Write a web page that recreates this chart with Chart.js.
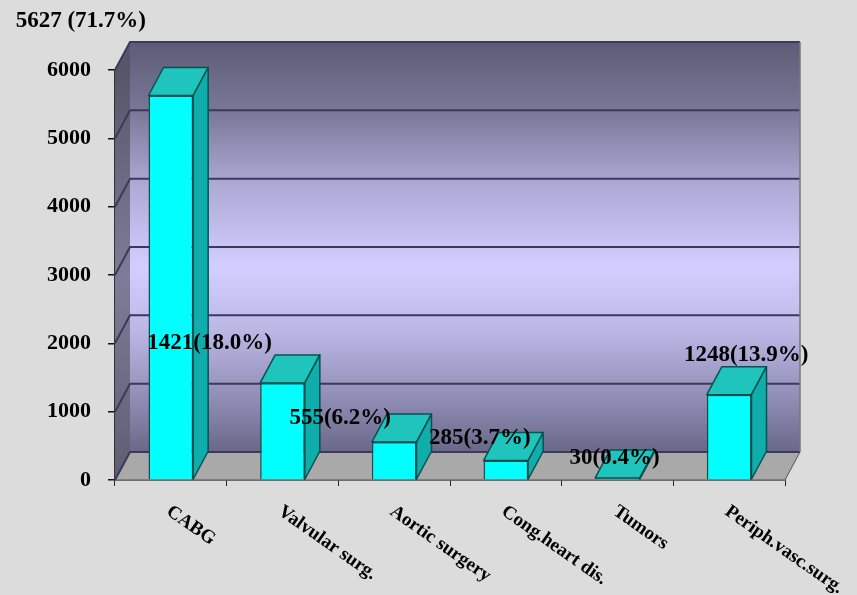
<!DOCTYPE html>
<html>
<head>
<meta charset="utf-8">
<script src="https://cdn.jsdelivr.net/npm/chart.js"></script>
<style>
  html, body { margin: 0; padding: 0; background: #dcdcdc; }
  canvas { display: block; }
</style>
</head>
<body>
<canvas id="chart" width="857" height="595"></canvas>
<script>
// data
var categories = ['CABG', 'Valvular surg.', 'Aortic surgery', 'Cong.heart dis.', 'Tumors', 'Periph.vasc.surg.'];
var cases = [5627, 1421, 555, 285, 30, 1248];
var percents = ['71.7%', '18.0%', '6.2%', '3.7%', '0.4%', '13.9%'];
var yTicks = [0, 1000, 2000, 3000, 4000, 5000, 6000];

var FONT = '"Liberation Serif", "Times New Roman", serif';
var DX = 15, DY = -28;   // depth of the fake 3d

// where each value label sits, relative to bar centre / bar top (hand placed like the original)
var labelShift = [[-90, -74], [-73, -40], [-54, -24], [-26, -22], [-3, -20], [17, -40]];

function poly(ctx, pts, fill, stroke, lw) {
    ctx.beginPath();
    ctx.moveTo(pts[0][0], pts[0][1]);
    for (var i = 1; i < pts.length; i++) ctx.lineTo(pts[i][0], pts[i][1]);
    ctx.closePath();
    if (fill) { ctx.fillStyle = fill; ctx.fill(); }
    if (stroke) { ctx.strokeStyle = stroke; ctx.lineWidth = lw || 1; ctx.stroke(); }
}

var walls = {
    id: 'walls',
    beforeDatasetsDraw: function (chart) {
        var ctx = chart.ctx, a = chart.chartArea, ys = chart.scales.y;
        ctx.save();
        // back wall
        var g = ctx.createLinearGradient(0, a.top + DY, 0, a.bottom + DY);
        g.addColorStop(0, '#5c5c76');
        g.addColorStop(0.17, '#7a7898');
        g.addColorStop(0.35, '#aeaad6');
        g.addColorStop(0.55, '#d2ceff');
        g.addColorStop(0.70, '#bcb8e6');
        g.addColorStop(0.86, '#9290b8');
        g.addColorStop(1, '#6a6888');
        poly(ctx, [[a.left + DX, a.top + DY], [a.right + DX, a.top + DY],
                   [a.right + DX, a.bottom + DY], [a.left + DX, a.bottom + DY]], g);
        // left wall
        var g2 = ctx.createLinearGradient(0, a.top, 0, a.bottom);
        g2.addColorStop(0, '#56566a');
        g2.addColorStop(0.5, '#7e7c98');
        g2.addColorStop(1, '#5e5e72');
        poly(ctx, [[a.left, a.top], [a.left + DX, a.top + DY],
                   [a.left + DX, a.bottom + DY], [a.left, a.bottom]], g2);
        // floor
        poly(ctx, [[a.left, a.bottom], [a.right, a.bottom],
                   [a.right + DX, a.bottom + DY], [a.left + DX, a.bottom + DY]], '#a9a9a9', '#555', 1);
        // grid lines on the walls
        ctx.lineWidth = 2;
        ctx.strokeStyle = '#3a3a5c';
        yTicks.forEach(function (v) {
            var y = ys.getPixelForValue(v);
            ctx.beginPath();
            ctx.moveTo(a.left, y);
            ctx.lineTo(a.left + DX, y + DY);
            ctx.lineTo(a.right + DX, y + DY);
            ctx.stroke();
        });
        ctx.lineWidth = 1.5;
        ctx.strokeStyle = '#777';
        ctx.beginPath();
        ctx.moveTo(a.right + DX, a.top + DY);
        ctx.lineTo(a.right + DX, a.bottom + DY);
        ctx.stroke();
        ctx.restore();
    },
    afterDatasetsDraw: function (chart) {
        var ctx = chart.ctx;
        var meta = chart.getDatasetMeta(0);
        ctx.save();
        ctx.lineJoin = 'round';
        meta.data.forEach(function (bar) {
            var p = bar.getProps(['x', 'y', 'base', 'width'], true);
            var l = p.x - p.width / 2, r = p.x + p.width / 2;
            poly(ctx, [[l, p.y], [r, p.y], [r + DX, p.y + DY], [l + DX, p.y + DY]], '#1fc4bc', '#0b5050', 1.5);
            poly(ctx, [[r, p.y], [r + DX, p.y + DY], [r + DX, p.base + DY], [r, p.base]], '#10adad', '#0b5050', 1.5);
        });
        ctx.restore();
    },
    afterDraw: function (chart) {
        var ctx = chart.ctx, xs = chart.scales.x, a = chart.chartArea;
        var meta = chart.getDatasetMeta(0);
        ctx.save();
        ctx.fillStyle = '#000';
        // value labels
        ctx.font = 'bold 23px ' + FONT;
        ctx.textAlign = 'center';
        ctx.textBaseline = 'middle';
        meta.data.forEach(function (bar, i) {
            var txt = cases[i] + (i === 0 ? ' ' : '') + '(' + percents[i] + ')';
            ctx.fillText(txt, bar.x + labelShift[i][0], bar.y + labelShift[i][1]);
        });
        // category labels, slanted downwards
        ctx.font = 'bold 19px ' + FONT;
        ctx.textAlign = 'left';
        ctx.textBaseline = 'top';
        categories.forEach(function (c, i) {
            var x = xs.getPixelForValue(i);
            ctx.save();
            ctx.translate(x + 3, a.bottom + 22);
            ctx.rotate(35 * Math.PI / 180);
            ctx.fillText(c, 0, 0);
            ctx.restore();
        });
        ctx.restore();
    }
};

var bg = {
    id: 'bg',
    beforeDraw: function (chart) {
        var ctx = chart.ctx;
        ctx.save();
        ctx.fillStyle = '#dcdcdc';
        ctx.fillRect(0, 0, chart.width, chart.height);
        ctx.restore();
    }
};

new Chart(document.getElementById('chart'), {
    type: 'bar',
    data: {
        labels: categories,
        datasets: [{
            data: cases,
            backgroundColor: '#00ffff',
            borderColor: '#0b5050',
            borderWidth: 1.5,
            categoryPercentage: 1,
            barPercentage: 0.4
        }]
    },
    options: {
        responsive: false,
        animation: false,
        layout: { padding: { left: 0, top: 70, right: 72, bottom: 0 } },
        plugins: { legend: { display: false }, tooltip: { enabled: false } },
        scales: {
            x: {
                afterFit: function (s) { s.height = 115; },
                grid: { display: true, drawOnChartArea: false, drawTicks: true, tickLength: 6, color: '#222', lineWidth: 1 },
                border: { display: true, color: '#333', width: 1.5 },
                ticks: { display: false }
            },
            y: {
                min: 0,
                max: 6000,
                afterFit: function (s) { s.width = 115; },
                afterBuildTicks: function (s) { s.ticks = yTicks.map(function (v) { return { value: v }; }); },
                grid: { display: true, drawOnChartArea: false, drawTicks: true, tickLength: 7, color: '#111', lineWidth: 1.5 },
                border: { display: true, color: '#333', width: 1.5 },
                ticks: {
                    color: '#000',
                    padding: 17,
                    font: { family: FONT, size: 22, weight: 'bold' },
                    callback: function (v) { return String(v); }
                }
            }
        }
    },
    plugins: [bg, walls]
});
</script>
</body>
</html>
